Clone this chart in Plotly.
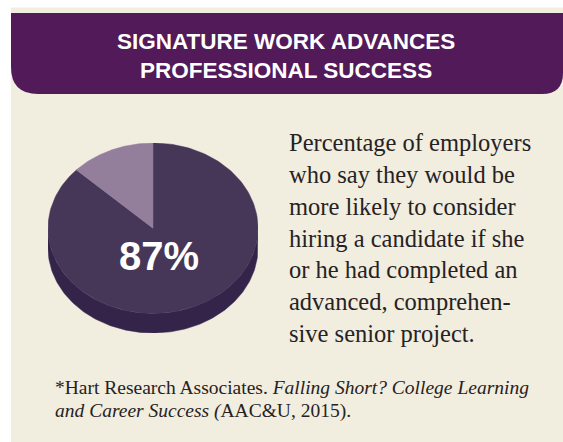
import numpy as np
import plotly.graph_objects as go

# ---- data ----
labels = ["Would be more likely to consider", "Other"]
shares = [87, 13]
title_lines = ["SIGNATURE WORK ADVANCES", "PROFESSIONAL SUCCESS"]
body_lines = [
    "Percentage of employers",
    "who say they would be",
    "more likely to consider",
    "hiring a candidate if she",
    "or he had completed an",
    "advanced, comprehen-",
    "sive senior project.",
]
source_lines = [
    "*Hart Research Associates. <i>Falling Short? College Learning</i>",
    "<i>and Career Success (</i>AAC&amp;U, 2015).",
]

# ---- style ----
W, H = 563, 442
BEIGE = "#F1EDDF"
BANNER = "#521A58"
TOP_DARK = "#463759"
TOP_LIGHT = "#937F9C"
SIDE = "#34244A"
INK = "#262223"
SERIF = "Liberation Serif, Times New Roman, serif"
SANS = "Liberation Sans, Arial, sans-serif"

DEPTH = 0.23  # pie thickness, in units of the vertical radius

fig = go.Figure()

# ---- tilted pie drawn on its own unit axes ----
def arc(t0, t1, n=200):
    t = np.radians(np.linspace(t0, t1, n))
    return np.cos(t), np.sin(t)

# side wall of the disc (front half only)
xs, ys = arc(180, 360)
side_x = np.concatenate([xs, xs[::-1]])
side_y = np.concatenate([ys, ys[::-1] - DEPTH])
fig.add_trace(go.Scatter(x=side_x, y=side_y, fill="toself", fillcolor=SIDE,
                         mode="lines", line=dict(color=SIDE, width=0.5),
                         xaxis="x2", yaxis="y2", hoverinfo="skip", showlegend=False))

# top face slices: start at 12 o'clock, go clockwise
total = sum(shares)
start = 90.0
for val, col, name in zip(shares, [TOP_DARK, TOP_LIGHT], labels):
    sweep = 360.0 * val / total
    ax, ay = arc(start, start - sweep)
    px = np.concatenate([[0], ax, [0]])
    py = np.concatenate([[0], ay, [0]])
    fig.add_trace(go.Scatter(x=px, y=py, fill="toself", fillcolor=col,
                             mode="lines", line=dict(color=col, width=0.5),
                             name=name, xaxis="x2", yaxis="y2",
                             hoverinfo="name", showlegend=False))
    start -= sweep

fig.add_annotation(xref="x2", yref="y2", x=0.06, y=-0.33,
                   text=f"<b>{shares[0]}%</b>", showarrow=False,
                   font=dict(family=SANS, size=40, color="white"))

# ---- page layout on a pixel canvas ----
shapes = [
    dict(type="rect", xref="x", yref="y", x0=11, x1=W, y0=7.5, y1=H,
         fillcolor=BEIGE, line=dict(width=0), layer="below"),
    dict(type="path", xref="x", yref="y",
         path="M 11,13 L 563,13 L 563,73 Q 563,94 542,94 L 38,94 Q 11,94 11,67 Z",
         fillcolor=BANNER, line=dict(width=0), layer="below"),
]

ann = []
for i, line in enumerate(title_lines):
    ann.append(dict(xref="x", yref="y", x=286, y=41 + i * 29, text=f"<b>{line}</b>",
                    showarrow=False, xanchor="center", yanchor="middle",
                    font=dict(family=SANS, size=22.5, color="white")))

ann.append(dict(xref="x", yref="y", x=287, y=127, text="<br>".join(body_lines),
                showarrow=False, xanchor="left", yanchor="top", align="left",
                font=dict(family=SERIF, size=24.5, color=INK)))

for i, line in enumerate(source_lines):
    ann.append(dict(xref="x", yref="y", x=53, y=375 + i * 23.4, text=line,
                    showarrow=False, xanchor="left", yanchor="top", align="left",
                    font=dict(family=SERIF, size=19.5, color=INK)))

for a in ann:
    fig.add_annotation(**a)

fig.update_layout(
    width=W, height=H,
    margin=dict(l=0, r=0, t=0, b=0),
    paper_bgcolor="white", plot_bgcolor="rgba(0,0,0,0)",
    shapes=shapes,
    xaxis=dict(range=[0, W], domain=[0, 1], visible=False, fixedrange=True),
    yaxis=dict(range=[H, 0], domain=[0, 1], visible=False, fixedrange=True),
    xaxis2=dict(range=[-1, 1], domain=[48 / W, 258 / W], visible=False,
                anchor="y2", fixedrange=True),
    yaxis2=dict(range=[-1 - DEPTH, 1], domain=[(H - 333) / H, (H - 143) / H],
                visible=False, anchor="x2", fixedrange=True),
)

fig.write_html("out.html", config={"displayModeBar": False})
